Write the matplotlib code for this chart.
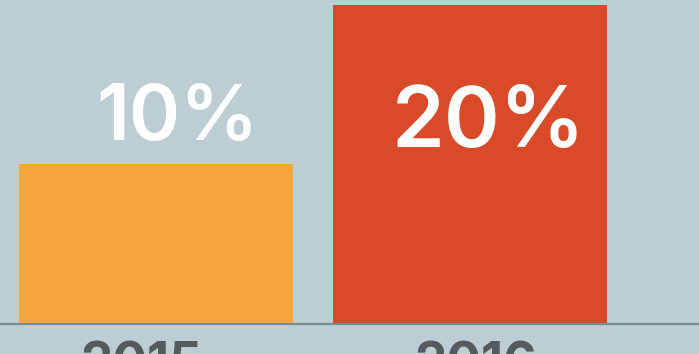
import matplotlib
matplotlib.use("Agg")
import matplotlib.pyplot as plt

years = ["2015", "2016"]
values = [10, 20]
labels = ["10%", "20%"]
colors = ["#f9a53e", "#d84a28"]

bg = "#bccdd3"

fig = plt.figure(figsize=(6.99, 3.54), dpi=100, facecolor=bg)
ax = fig.add_axes([0, 0, 1, 1], facecolor=bg)

x = [0, 1]
ax.bar(x, values, width=0.874, color=colors, zorder=2)
ax.set_xlim(-0.4976, 1.732)
ax.set_ylim(-1.88, 20.31)

# baseline
ax.axhline(0, color="#7b8b93", lw=1.6, zorder=3)

# value labels: above the short bar, inside the tall one
ax.text(x[0] + 0.07, values[0] + 2.85, labels[0], ha="center", va="center",
        color="white", fontsize=56, family="Inter", weight="semibold")
ax.text(x[1] + 0.06, values[1] - 7.5, labels[1], ha="center", va="center",
        color="white", fontsize=61, family="Inter", weight="semibold")

# year labels, cut off by the bottom edge
for xi, dx, yr in zip(x, [-0.048, 0.018], years):
    ax.text(xi + dx, -1.07, yr, ha="center", va="top", color="#555a5c",
            fontsize=37, family="Inter", weight="bold", clip_on=False)

ax.axis("off")
fig.savefig("out.png", dpi=100, facecolor=bg)
